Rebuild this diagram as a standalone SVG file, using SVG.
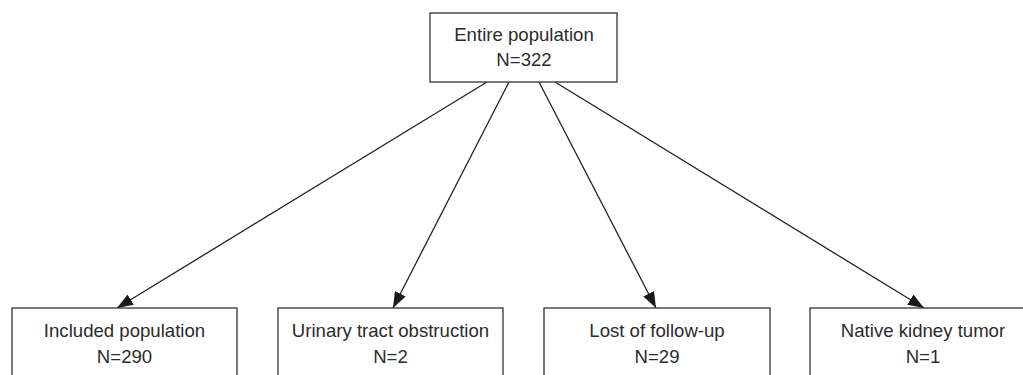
<svg xmlns="http://www.w3.org/2000/svg" width="1023" height="375" viewBox="0 0 1023 375">
<style>
.box{fill:#fff;stroke:#333;stroke-width:1.3}
.t{font-family:"Liberation Sans",Arial,sans-serif;font-size:18.6px;fill:#2b2b2b;text-anchor:middle}
.c{stroke:#222;stroke-width:1.3;fill:none}
</style>
<defs>
<marker id="ah" viewBox="0 0 16 12" refX="16" refY="6" markerWidth="16" markerHeight="12" markerUnits="userSpaceOnUse" orient="auto">
<path d="M0,0 L16,6 L0,12 z" fill="#1a1a1a"/>
</marker>
</defs>
<rect width="1023" height="375" fill="#fff"/>
<g id="connectors">
<line class="c" x1="487" y1="82" x2="117" y2="308" marker-end="url(#ah)"/>
<line class="c" x1="509" y1="82" x2="393" y2="308" marker-end="url(#ah)"/>
<line class="c" x1="539" y1="82" x2="656" y2="308" marker-end="url(#ah)"/>
<line class="c" x1="555" y1="82" x2="924" y2="308" marker-end="url(#ah)"/>
</g>
<g id="n-entire">
<rect class="box" x="430" y="13" width="187" height="69"/>
<text class="t" x="524" y="41">Entire population</text>
<text class="t" x="524" y="66">N=322</text>
</g>
<g id="n-included">
<rect class="box" x="12" y="308" width="225" height="80"/>
<text class="t" x="124.5" y="336.5">Included population</text>
<text class="t" x="124.5" y="363">N=290</text>
</g>
<g id="n-urinary">
<rect class="box" x="278" y="308" width="225" height="80"/>
<text class="t" x="390.5" y="336.5">Urinary tract obstruction</text>
<text class="t" x="390.5" y="363">N=2</text>
</g>
<g id="n-lost">
<rect class="box" x="544" y="308" width="226" height="80"/>
<text class="t" x="657" y="336.5">Lost of follow-up</text>
<text class="t" x="657" y="363">N=29</text>
</g>
<g id="n-native">
<rect class="box" x="810" y="308" width="226" height="80"/>
<text class="t" x="923" y="336.5">Native kidney tumor</text>
<text class="t" x="923" y="363">N=1</text>
</g>
</svg>
